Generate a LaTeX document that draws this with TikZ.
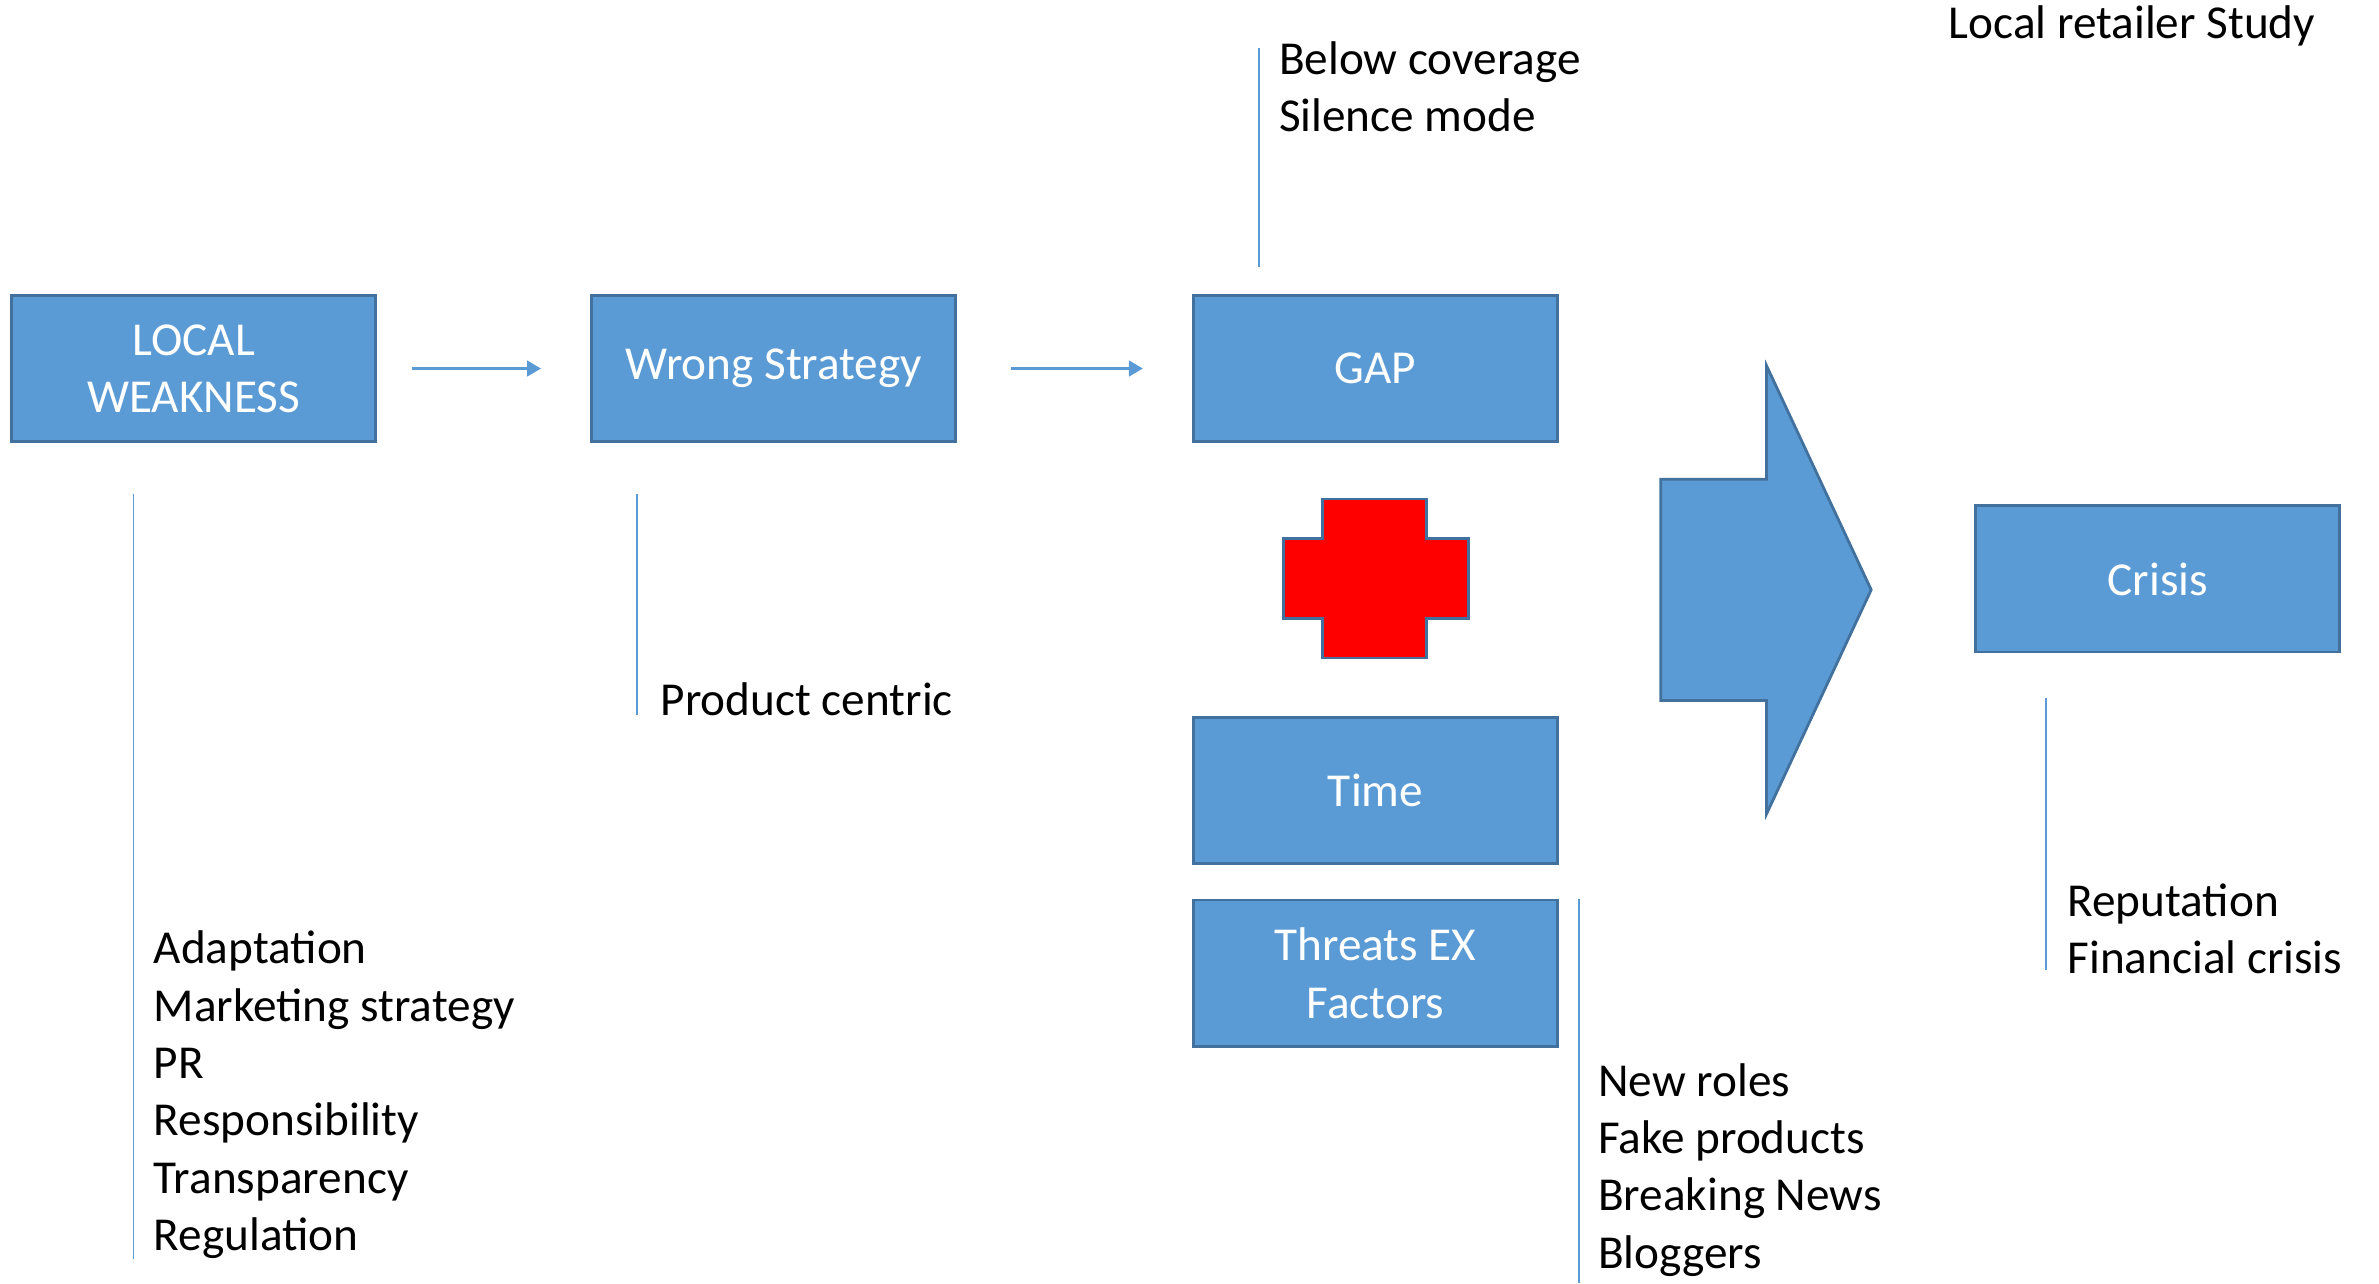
\documentclass[tikz,border=0pt]{standalone}
\usepackage{fontspec}
\setmainfont{Carlito}
\usetikzlibrary{arrows.meta, positioning}
\definecolor{boxblue}{HTML}{5B9BD5}
\definecolor{boxedge}{HTML}{41719C}

\begin{document}
\begin{tikzpicture} [x=0.01cm, y=-0.01cm,
	font=\fontsize{13.6}{16.5}\selectfont,
	box/.style={draw=boxedge, line width=0.8pt, fill=boxblue, text=white,
		minimum width=3.68cm, minimum height=1.48cm, align=center, inner sep=0pt},
	note/.style={align=left, anchor=west, inner sep=0pt},
	bar/.style={draw=boxblue, line width=0.5pt},
	link/.style={draw=boxblue, line width=0.7pt, -{Triangle[length=4pt, width=4.5pt]}}]
	
	\useasboundingbox (0,0) rectangle (2408,1299);
	
	% main chain
	\node[box] (weak) at (196,373) {LOCAL\\WEAKNESS};
	\node[box, right=2.16cm of weak] (strategy) {Wrong Strategy};
	\node[box, right=2.38cm of strategy] (gap) {GAP};
	\node[box, below=2.76cm of gap] (time) {Time};
	\node[box, below=0.34cm of time] (threats) {Threats EX\\Factors};
	\node[box] (crisis) at (2184,586) {Crisis};
	
	\draw[link, shorten <=0.35cm, shorten >=0.5cm] (weak) -- (strategy);
	\draw[link, shorten <=0.55cm, shorten >=0.5cm] (strategy) -- (gap);
	
	% plus sign and big arrow
	\draw[draw=boxedge, fill=red, line width=0.8pt] (1339,505) -- (1444,505) -- (1444,545)
		-- (1486,545) -- (1486,626) -- (1444,626) -- (1444,666) -- (1339,666) -- (1339,626)
		-- (1299,626) -- (1299,545) -- (1339,545) -- cycle;
	\draw[draw=boxedge, fill=boxblue, line width=0.8pt] (1681,485) -- (1788,485) -- (1788,370)
		-- (1894,597) -- (1788,824) -- (1788,709) -- (1681,709) -- cycle;
	
	% notes
	\node[note, anchor=east] (title) at (2344,26) {Local retailer Study};
	\node[note] (gaplist) at (1294,88) {Below coverage\\Silence mode};
	\node[note] (strategylist) at (668,708) {Product centric};
	\node[note] (weaklist) at (155,1108) {Adaptation\\Marketing strategy\\PR\\Responsibility\\Transparency\\Regulation};
	\node[note] (threatlist) at (1617,1184) {New roles\\Fake products\\Breaking News\\Bloggers};
	\node[note] (crisislist) at (2092,940) {Reputation\\Financial crisis};
	
	\coordinate (gapbar) at (1274,49);
	\coordinate (gapbar end) at (1274,270);
	\coordinate (weakbar) at (135,500);
	\coordinate (weakbar end) at (135,1274);
	\coordinate (strategybar) at (645,500);
	\coordinate (strategybar end) at (645,724);
	\coordinate (threatbar) at (1598,910);
	\coordinate (threatbar end) at (1598,1299);
	\coordinate (crisisbar) at (2071,706);
	\coordinate (crisisbar end) at (2071,982);
	
	\draw[bar] (gapbar) -- (gapbar end);
	\draw[bar] (weakbar) -- (weakbar end);
	\draw[bar] (strategybar) -- (strategybar end);
	\draw[bar] (threatbar) -- (threatbar end);
	\draw[bar] (crisisbar) -- (crisisbar end);
	
\end{tikzpicture}
\end{document}
